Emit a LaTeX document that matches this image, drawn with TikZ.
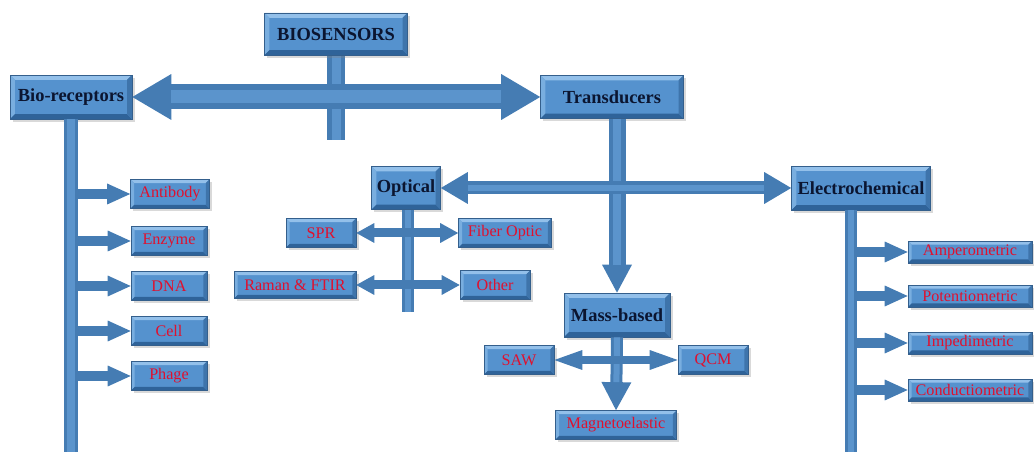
\documentclass[tikz,border=0pt]{standalone}
\usepackage{fontspec}
\setmainfont{Liberation Serif}
\usetikzlibrary{arrows.meta, shadows}
\definecolor{boxblue}{HTML}{5592CE}
\definecolor{boxedge}{HTML}{345F8C}
\definecolor{bvtop}{HTML}{93C0EA}
\definecolor{bvleft}{HTML}{79AEDF}
\definecolor{bvbot}{HTML}{2F6399}
\definecolor{bvright}{HTML}{3E74AB}
\definecolor{arrowblue}{HTML}{457CB3}
\definecolor{arrowlight}{HTML}{5B94CC}
\definecolor{hdtext}{HTML}{0B1530}
\definecolor{lftext}{HTML}{E0102E}

\begin{document}
\begin{tikzpicture}[x=0.02cm, y=-0.02cm,
  bevel/.style={path picture={
    \fill[bvtop] (path picture bounding box.north west) -- (path picture bounding box.north east)
      -- ([shift={(-#1,-#1)}]path picture bounding box.north east) -- ([shift={(#1,-#1)}]path picture bounding box.north west) -- cycle;
    \fill[bvleft] (path picture bounding box.north west) -- ([shift={(#1,-#1)}]path picture bounding box.north west)
      -- ([shift={(#1,#1)}]path picture bounding box.south west) -- (path picture bounding box.south west) -- cycle;
    \fill[bvbot] (path picture bounding box.south west) -- ([shift={(#1,#1)}]path picture bounding box.south west)
      -- ([shift={(-#1,#1)}]path picture bounding box.south east) -- (path picture bounding box.south east) -- cycle;
    \fill[bvright] (path picture bounding box.south east) -- ([shift={(-#1,#1)}]path picture bounding box.south east)
      -- ([shift={(-#1,-#1)}]path picture bounding box.north east) -- (path picture bounding box.north east) -- cycle;
  }},
  box/.style={draw=boxedge, fill=boxblue, inner sep=0pt, drop shadow={opacity=.3, shadow xshift=1.5pt, shadow yshift=-1.5pt}},
  hd/.style={box, bevel=2.8pt, minimum height=0.86cm, font=\fontsize{10.5}{12}\selectfont\bfseries, text=hdtext},
  lf/.style={box, bevel=2pt, minimum height=0.58cm, font=\fontsize{9.2}{11}\selectfont, text=lftext},
  shine/.style n args={3}{postaction={draw=arrowlight, line width=#1, -, shorten <=#2, shorten >=#3}},
  bar/.style={draw=arrowblue, line width=#1, shine={0.5*#1}{0pt}{0pt}},
  big/.style={draw=arrowblue, line width=0.5cm, shine={0.26cm}{0.78cm}{0.78cm},
    {Triangle[length=0.78cm, width=0.92cm, line width=0pt]}-{Triangle[length=0.78cm, width=0.92cm, line width=0pt]}},
  mid/.style={draw=arrowblue, line width=0.26cm, shine={0.13cm}{0.54cm}{0.54cm},
    {Triangle[length=0.54cm, width=0.64cm, line width=0pt]}-{Triangle[length=0.54cm, width=0.64cm, line width=0pt]}},
  down/.style={draw=arrowblue, line width=#1, shine={0.5*#1}{0pt}{0.56cm}, -{Triangle[length=0.56cm, width=0.6cm, line width=0pt]}},
  pair/.style={draw=arrowblue, line width=0.18cm, {Triangle[length=#1, width=0.4cm, line width=0pt]}-{Triangle[length=#1, width=0.4cm, line width=0pt]}},
  side/.style={draw=arrowblue, line width=0.21cm, -{Triangle[length=0.46cm, width=0.42cm, line width=0pt]}}]
  \useasboundingbox (0,0) rectangle (1034,452);

  % top level
  \coordinate (stemend) at (336,140);
  \draw[bar=0.36cm] (336,55) -- (stemend);
  \node[hd, minimum width=2.86cm, minimum height=0.84cm] (biosensors) at (336,34) {BIOSENSORS};
  \node[hd, minimum width=2.44cm, minimum height=0.88cm] (receptors) at (71,97) {Bio-receptors};
  \node[hd, minimum width=2.86cm] (transducers) at (612,97) {Transducers};
  \draw[big] (receptors.east) -- (transducers.west);

  % bio-receptors
  \node[lf, minimum width=1.58cm] (antibody) at (170,194) {Antibody};
  \node[lf, minimum width=1.52cm] (enzyme) at (169,241) {Enzyme};
  \node[lf, minimum width=1.52cm] (dna) at (169,286) {DNA};
  \node[lf, minimum width=1.52cm] (cell) at (169,331) {Cell};
  \node[lf, minimum width=1.52cm] (phage) at (169,376) {Phage};
  \coordinate (recend) at (71,452);
  \foreach \n in {antibody, enzyme, dna, cell, phage}
    \draw[side] (recend |- \n.west) -- (\n.west);
  \draw[bar=0.3cm] (receptors.south) -- (recend);

  % transducers
  \node[hd, minimum width=1.38cm] (optical) at (406,188) {Optical};
  \node[hd, minimum width=2.78cm, minimum height=0.88cm] (electro) at (861,188) {Electrochemical};
  \node[hd, minimum width=2.12cm, minimum height=0.88cm] (mass) at (617,315) {Mass-based};
  \draw[down=0.34cm] (transducers.south -| mass.north) -- (mass.north);
  \draw[mid] (optical.east) -- (optical.east -| electro.west);

  % optical
  \node[lf, minimum width=1.4cm] (spr) at (321,233) {SPR};
  \node[lf, minimum width=1.86cm] (fiber) at (505,233) {Fiber Optic};
  \node[lf, minimum width=2.44cm, minimum height=0.54cm] (raman) at (295,285) {Raman \& FTIR};
  \node[lf, minimum width=1.4cm] (other) at (495,285) {Other};
  \coordinate (optend) at (408,312);
  \draw[bar=0.24cm] (optical.south -| optend) -- (optend);
  \draw[pair=0.36cm] (spr.east) -- (spr.east -| fiber.west);
  \draw[pair=0.36cm] (raman.east) -- (raman.east -| other.west);

  % mass-based
  \node[lf, minimum width=1.4cm] (saw) at (519,360) {SAW};
  \node[lf, minimum width=1.4cm] (qcm) at (713,360) {QCM};
  \node[lf, minimum width=2.42cm] (magneto) at (616,425) {Magnetoelastic};
  \draw[down=0.24cm] (mass.south) -- (magneto.north);
  \draw[pair=0.56cm] (saw.east) -- (qcm.west);

  % electrochemical
  \node[lf, minimum width=2.48cm, minimum height=0.44cm] (ampero) at (970,252) {Amperometric};
  \node[lf, minimum width=2.48cm, minimum height=0.44cm] (potentio) at (970,296) {Potentiometric};
  \node[lf, minimum width=2.48cm, minimum height=0.44cm] (impedi) at (970,343) {Impedimetric};
  \node[lf, minimum width=2.48cm, minimum height=0.44cm] (conducto) at (970,390) {Conductiometric};
  \coordinate (elend) at (851,452);
  \foreach \n in {ampero, potentio, impedi, conducto}
    \draw[side] (elend |- \n.west) -- (\n.west);
  \draw[bar=0.23cm] (elend |- electro.south) -- (elend);
\end{tikzpicture}
\end{document}
